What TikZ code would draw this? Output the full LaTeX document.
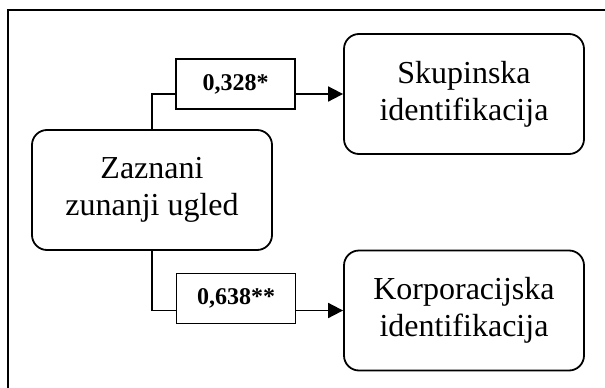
\documentclass[tikz,border=0pt]{standalone}
\usepackage{fontspec}
\setmainfont{Liberation Serif}
\usetikzlibrary{arrows.meta,positioning}
\tikzset{every picture/.style={line width=1.8pt}}
\tikzstyle{varbox}=[draw,rounded corners=15pt,minimum width=240pt,minimum height=120pt,align=center,inner sep=0pt,font=\fontsize{32}{37}\selectfont]
\tikzstyle{coefbox}=[draw,fill=white,minimum width=119pt,minimum height=50pt,inner sep=0pt,font=\bfseries\fontsize{24}{28}\selectfont]

\begin{document}
\begin{tikzpicture}[x=1pt,y=-1pt]
\useasboundingbox (0,0) rectangle (605,388);
\clip (0,0) rectangle (605,388);
\draw (8,10) rectangle (640,420);
\node[varbox] (Z) at (152,190) {Zaznani\\zunanji ugled};
\node[varbox] (S) at (464,94) {Skupinska\\identifikacija};
\node[varbox] (K) at (464,310.5) {Korporacijska\\identifikacija};
\node[coefbox] (c1) at (235.5,84) {0,328*};
\node[coefbox] (c2) at (236,298.5) {0,638**};
\coordinate (c1in) at (c1.west |- S.west);
\coordinate (c1out) at (c1.east |- S.west);
\coordinate (c2in) at (c2.west |- K.west);
\coordinate (c2out) at (c2.east |- K.west);
\path[-{Triangle[length=15pt,width=15pt]}]
(c1out) edge (S.west)
(c2out) edge (K.west);
\draw (Z.north) |- (c1in);
\draw (Z.south) |- (c2in);
\end{tikzpicture}
\end{document}
